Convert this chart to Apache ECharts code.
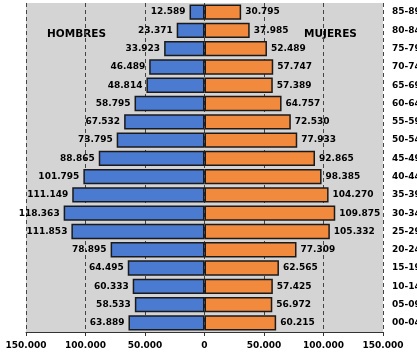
<!DOCTYPE html>
<html>
<head>
<meta charset="utf-8">
<script src="https://cdn.jsdelivr.net/npm/echarts@6/dist/echarts.min.js"></script>
<style>
  html, body { margin: 0; padding: 0; background: #ffffff; }
  #chart { width: 417px; height: 355px; }
</style>
</head>
<body>
<div id="chart"></div>
<script>
// Age groups, oldest first (top of the pyramid)
const ageGroups = ['85-89', '80-84', '75-79', '70-74', '65-69', '60-64', '55-59', '50-54',
  '45-49', '40-44', '35-39', '30-34', '25-29', '20-24', '15-19', '10-14', '05-09', '00-04'];

// Population by age group
const hombres = [12589, 23371, 33923, 46489, 48814, 58795, 67532, 73795, 88865,
  101795, 111149, 118363, 111853, 78895, 64495, 60333, 58533, 63889];
const mujeres = [30795, 37985, 52489, 57747, 57389, 64757, 72530, 77933, 92865,
  98385, 104270, 109875, 105332, 77309, 62565, 57425, 56972, 60215];

// Axis ticks
const axisMin = -150000;
const axisMax = 150000;
const axisStep = 50000;

const fmt = v => Math.abs(v).toString().replace(/\B(?=(\d{3})+(?!\d))/g, '.');

const chart = echarts.init(document.getElementById('chart'));
const labelFont = { fontFamily: 'DejaVu Sans', fontWeight: 'bold', fontSize: 9, color: '#000' };

chart.setOption({
  animation: false,
  grid: {
    left: 26, right: 34, top: 3, bottom: 23,
    outerBoundsMode: 'none', containLabel: false,
    show: true, backgroundColor: '#d4d4d4', borderWidth: 0
  },
  xAxis: {
    type: 'value',
    min: axisMin, max: axisMax, interval: axisStep,
    axisLine: { show: true, lineStyle: { color: '#333', width: 1 } },
    axisTick: { show: true, length: 4, lineStyle: { color: '#333' } },
    axisLabel: Object.assign({ margin: 9, formatter: v => fmt(v) }, labelFont),
    splitLine: { show: true, lineStyle: { color: '#444', type: [4, 3], width: 1 } }
  },
  yAxis: {
    type: 'category',
    data: ageGroups,
    inverse: true,
    position: 'right',
    axisLine: { show: false },
    axisTick: { show: false },
    axisLabel: Object.assign({ margin: 9 }, labelFont),
    splitLine: { show: false }
  },
  graphic: [
    { type: 'text', left: 47, top: 29, style: { text: 'HOMBRES', fontFamily: 'DejaVu Sans', fontWeight: 'bold', fontSize: 10.5, fill: '#000' } },
    { type: 'text', left: 304, top: 29, style: { text: 'MUJERES', fontFamily: 'DejaVu Sans', fontWeight: 'bold', fontSize: 10.5, fill: '#000' } }
  ],
  series: [
    {
      name: 'Hombres', type: 'bar',
      data: hombres.map(v => -v),
      barGap: '-100%', barCategoryGap: '16%',
      itemStyle: { color: '#4a7bd0', borderColor: '#1a1a1a', borderWidth: 1.5 },
      label: Object.assign({ show: true, position: 'left', distance: 4, formatter: p => fmt(p.value) }, labelFont)
    },
    {
      name: 'Mujeres', type: 'bar',
      data: mujeres,
      barGap: '-100%', barCategoryGap: '16%',
      itemStyle: { color: '#f28a3e', borderColor: '#1a1a1a', borderWidth: 1.5 },
      label: Object.assign({ show: true, position: 'right', distance: 4, formatter: p => fmt(p.value) }, labelFont)
    }
  ]
});
</script>
</body>
</html>
